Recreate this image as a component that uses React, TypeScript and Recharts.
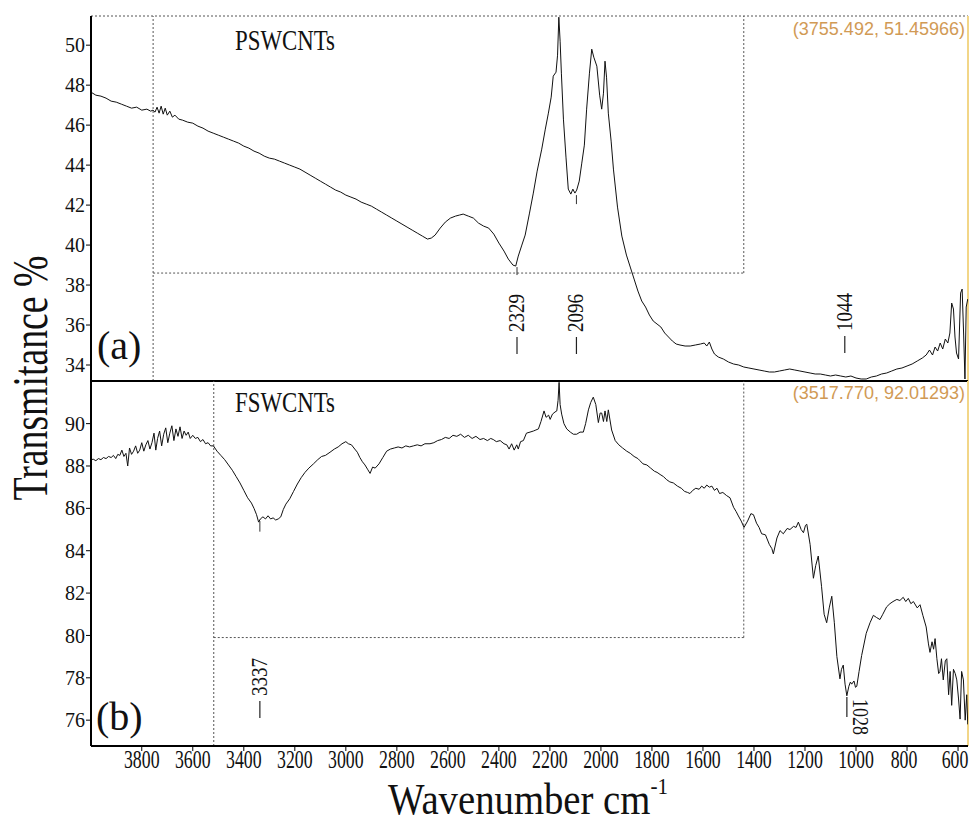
import React from "react";
import { LineChart, Line, XAxis, YAxis, ReferenceLine, ReferenceDot } from "recharts";

const SERIF = "'Liberation Serif', 'Times New Roman', serif";
const INK = "#111";
const CURSOR = "#555";

// [wavenumber cm-1, transmittance %]
const PSWCNTS: [number, number][] = [
  [3999, 47.65], [3980, 47.5], [3960, 47.45], [3940, 47.35], [3920, 47.2], [3900, 47.15],
  [3880, 47.05], [3860, 46.95], [3840, 46.85], [3820, 46.9], [3800, 46.75], [3780, 46.8],
  [3765, 46.7], [3756, 46.75], [3748, 46.65], [3740, 46.9], [3732, 46.6], [3724, 46.95],
  [3716, 46.55], [3708, 46.85], [3700, 46.5], [3690, 46.7], [3680, 46.4], [3670, 46.5],
  [3655, 46.3], [3640, 46.25], [3620, 46.15], [3600, 46.1], [3580, 45.95], [3560, 45.85],
  [3540, 45.7], [3520, 45.6], [3500, 45.5], [3480, 45.4], [3460, 45.3], [3440, 45.2],
  [3420, 45.1], [3400, 44.95], [3380, 44.85], [3360, 44.7], [3340, 44.6], [3320, 44.45],
  [3300, 44.35], [3280, 44.3], [3260, 44.2], [3240, 44.1], [3220, 44.0], [3200, 43.9],
  [3180, 43.8], [3160, 43.65], [3140, 43.5], [3120, 43.35], [3100, 43.2], [3080, 43.05],
  [3060, 42.9], [3040, 42.75], [3020, 42.65], [3000, 42.5], [2980, 42.4], [2960, 42.3],
  [2940, 42.15], [2920, 42.05], [2900, 41.95], [2880, 41.8], [2860, 41.65], [2840, 41.5],
  [2820, 41.35], [2800, 41.2], [2780, 41.05], [2760, 40.9], [2740, 40.75], [2720, 40.6],
  [2700, 40.45], [2680, 40.3], [2665, 40.35], [2650, 40.5], [2630, 40.85], [2610, 41.15],
  [2590, 41.35], [2570, 41.45], [2555, 41.5], [2540, 41.55], [2520, 41.45], [2500, 41.35],
  [2480, 41.1], [2460, 40.95], [2440, 40.85], [2420, 40.55], [2400, 40.1], [2380, 39.7],
  [2363, 39.3], [2345, 39.0], [2334, 38.95], [2324, 39.45], [2310, 40.0], [2297, 40.5],
  [2280, 41.6], [2265, 42.6], [2250, 43.7], [2232, 44.8], [2218, 45.8], [2206, 46.6],
  [2195, 47.4], [2187, 48.45], [2176, 48.65], [2170, 49.5], [2165, 51.4], [2160, 50.2],
  [2155, 48.6], [2147, 46.3], [2137, 44.4], [2128, 42.8], [2118, 42.55], [2110, 42.8],
  [2102, 42.6], [2095, 42.75], [2085, 43.2], [2075, 44.1], [2065, 45.0], [2056, 46.8],
  [2045, 48.6], [2036, 49.8], [2028, 49.4], [2016, 48.95], [2005, 47.5], [1997, 46.8],
  [1990, 47.6], [1984, 49.2], [1978, 48.4], [1971, 46.6], [1960, 45.2], [1951, 43.8],
  [1935, 41.9], [1918, 40.45], [1900, 39.5], [1885, 38.9], [1870, 38.3], [1855, 37.7],
  [1840, 37.2], [1825, 36.9], [1810, 36.5], [1795, 36.2], [1780, 36.05], [1765, 35.9],
  [1750, 35.6], [1735, 35.4], [1720, 35.2], [1705, 35.05], [1690, 35.0], [1670, 34.95],
  [1650, 34.95], [1630, 35.0], [1610, 35.05], [1595, 35.1], [1585, 34.95], [1575, 35.15],
  [1565, 34.8], [1555, 34.55], [1540, 34.4], [1520, 34.3], [1500, 34.15], [1480, 34.05],
  [1460, 34.0], [1440, 33.9], [1420, 33.85], [1400, 33.8], [1380, 33.75], [1360, 33.7],
  [1340, 33.65], [1320, 33.65], [1300, 33.7], [1280, 33.75], [1260, 33.8], [1240, 33.75],
  [1220, 33.7], [1200, 33.65], [1180, 33.6], [1160, 33.55], [1140, 33.55], [1120, 33.5],
  [1100, 33.45], [1080, 33.5], [1060, 33.45], [1040, 33.4], [1020, 33.45], [1000, 33.35],
  [980, 33.3], [960, 33.3], [940, 33.4], [920, 33.45], [900, 33.55], [880, 33.6],
  [860, 33.7], [840, 33.8], [820, 33.85], [800, 33.95], [780, 34.05], [760, 34.2],
  [740, 34.35], [725, 34.5], [712, 34.75], [700, 34.5], [690, 34.9], [680, 34.7],
  [670, 35.1], [660, 34.8], [650, 35.3], [640, 35.1], [632, 35.6], [625, 37.1],
  [618, 36.8], [612, 35.4], [606, 34.6], [598, 34.3], [590, 37.6], [584, 37.8],
  [578, 35.5], [573, 33.3], [568, 36.9], [562, 37.3],
];

const FSWCNTS: [number, number][] = [
  [3999, 88.3], [3990, 88.32], [3980, 88.25], [3970, 88.35], [3960, 88.3], [3950, 88.4],
  [3940, 88.35], [3930, 88.45], [3920, 88.4], [3911, 88.5], [3902, 88.35], [3894, 88.55],
  [3886, 88.5], [3878, 88.75], [3870, 88.45], [3862, 88.6], [3855, 88.0], [3848, 88.85],
  [3840, 88.55], [3832, 88.7], [3824, 88.95], [3816, 88.6], [3808, 88.75], [3800, 89.1],
  [3792, 88.7], [3784, 89.0], [3776, 89.2], [3768, 88.8], [3760, 89.1], [3752, 89.55],
  [3745, 88.75], [3738, 89.3], [3730, 89.65], [3722, 88.95], [3714, 89.5], [3706, 89.8],
  [3698, 89.1], [3690, 89.55], [3682, 89.9], [3674, 89.2], [3666, 89.75], [3658, 89.4],
  [3650, 89.85], [3642, 89.3], [3634, 89.65], [3626, 89.45], [3618, 89.6], [3610, 89.3],
  [3600, 89.45], [3590, 89.3], [3580, 89.35], [3570, 89.15], [3560, 89.25], [3550, 89.05],
  [3540, 89.1], [3530, 88.95], [3519, 88.95], [3505, 88.7], [3490, 88.5], [3475, 88.3],
  [3460, 88.05], [3445, 87.8], [3430, 87.5], [3415, 87.2], [3400, 86.85], [3385, 86.5],
  [3370, 86.25], [3360, 86.0], [3350, 85.7], [3342, 85.35], [3335, 85.5], [3325, 85.6],
  [3315, 85.5], [3305, 85.65], [3295, 85.5], [3285, 85.55], [3275, 85.45], [3265, 85.5],
  [3255, 85.6], [3245, 85.95], [3235, 86.2], [3220, 86.45], [3205, 86.8], [3190, 87.15],
  [3175, 87.45], [3160, 87.7], [3145, 87.9], [3127, 88.1], [3110, 88.3], [3095, 88.45],
  [3080, 88.5], [3062, 88.65], [3045, 88.8], [3030, 88.9], [3015, 89.05], [3000, 89.15],
  [2990, 89.05], [2978, 89.0], [2965, 88.8], [2955, 88.65], [2945, 88.4], [2935, 88.2],
  [2925, 88.05], [2915, 87.85], [2905, 87.65], [2895, 87.95], [2885, 87.9], [2870, 88.1],
  [2855, 88.4], [2840, 88.7], [2825, 88.8], [2810, 88.85], [2795, 88.9], [2780, 88.85],
  [2765, 88.95], [2750, 88.9], [2735, 88.95], [2720, 89.0], [2705, 88.95], [2690, 89.05],
  [2670, 89.05], [2655, 89.1], [2640, 89.2], [2625, 89.25], [2610, 89.35], [2595, 89.3],
  [2580, 89.45], [2565, 89.4], [2550, 89.5], [2535, 89.35], [2520, 89.45], [2505, 89.3],
  [2490, 89.4], [2474, 89.25], [2460, 89.3], [2445, 89.2], [2432, 89.3], [2422, 89.25],
  [2410, 89.15], [2395, 89.2], [2380, 89.05], [2369, 89.0], [2360, 88.8], [2350, 89.05],
  [2340, 88.75], [2330, 89.0], [2324, 88.8], [2315, 89.15], [2304, 89.2], [2292, 89.55],
  [2278, 89.6], [2265, 89.65], [2255, 89.7], [2245, 89.75], [2235, 90.1], [2223, 90.6],
  [2215, 90.3], [2205, 90.4], [2199, 90.2], [2190, 90.45], [2180, 90.55], [2173, 90.6],
  [2168, 91.1], [2164, 91.95], [2160, 90.9], [2154, 90.45], [2145, 90.0], [2134, 89.75],
  [2120, 89.6], [2108, 89.5], [2095, 89.5], [2082, 89.6], [2069, 89.6], [2060, 90.0],
  [2049, 90.65], [2040, 91.0], [2030, 91.25], [2020, 90.9], [2010, 90.05], [2003, 90.5],
  [1997, 90.5], [1990, 90.1], [1984, 90.6], [1977, 90.1], [1971, 90.65], [1958, 89.7],
  [1944, 89.2], [1930, 89.0], [1915, 88.85], [1899, 88.7], [1885, 88.6], [1870, 88.45],
  [1855, 88.35], [1847, 88.25], [1835, 88.1], [1820, 88.05], [1805, 87.9], [1790, 87.75],
  [1780, 87.7], [1768, 87.6], [1755, 87.5], [1742, 87.35], [1730, 87.25], [1716, 87.2],
  [1700, 87.05], [1685, 86.95], [1672, 86.8], [1660, 86.75], [1651, 86.7], [1640, 86.85],
  [1628, 86.95], [1615, 86.9], [1605, 87.05], [1595, 86.95], [1585, 87.1], [1575, 87.0],
  [1565, 87.05], [1555, 86.85], [1545, 86.95], [1535, 86.7], [1522, 86.75], [1507, 86.6],
  [1494, 86.5], [1480, 86.05], [1470, 85.85], [1461, 85.64], [1450, 85.4], [1439, 85.1],
  [1425, 85.4], [1412, 85.75], [1402, 85.7], [1390, 85.3], [1380, 85.1], [1370, 84.8],
  [1355, 84.75], [1340, 84.3], [1330, 84.1], [1324, 83.85], [1310, 84.6], [1298, 84.95],
  [1285, 84.8], [1270, 85.05], [1259, 85.0], [1245, 85.15], [1235, 85.1], [1226, 85.35],
  [1215, 85.0], [1206, 84.85], [1198, 85.2], [1193, 85.25], [1180, 84.3], [1167, 82.7],
  [1158, 83.3], [1148, 83.75], [1135, 82.3], [1125, 81.0], [1115, 80.6], [1105, 81.3],
  [1095, 81.85], [1085, 80.6], [1075, 79.0], [1063, 77.95], [1057, 78.4], [1050, 78.6],
  [1043, 77.7], [1036, 77.15], [1028, 77.6], [1022, 77.8], [1017, 77.7], [1008, 77.85],
  [1002, 77.55], [997, 77.6], [988, 78.3], [978, 79.05], [960, 80.1], [945, 80.6],
  [932, 80.95], [920, 80.85], [906, 80.75], [895, 81.0], [880, 81.35], [867, 81.5],
  [855, 81.6], [840, 81.7], [828, 81.65], [815, 81.8], [805, 81.6], [795, 81.75],
  [785, 81.5], [775, 81.6], [760, 81.3], [749, 81.45], [738, 80.95], [725, 80.4],
  [716, 79.6], [710, 79.2], [702, 79.7], [696, 79.35], [690, 79.85], [683, 78.9],
  [676, 78.2], [671, 78.3], [665, 78.9], [658, 77.9], [650, 78.8], [644, 78.9],
  [637, 77.2], [631, 78.3], [625, 76.7], [618, 78.4], [611, 78.2], [605, 77.9],
  [598, 77.0], [592, 76.05], [586, 78.3], [579, 77.9], [572, 76.0], [566, 77.2],
  [562, 75.8],
];

const X_DOMAIN: [number, number] = [561, 3999];
const X_TICKS = [3800, 3600, 3400, 3200, 3000, 2800, 2600, 2400, 2200, 2000, 1800, 1600, 1400, 1200, 1000, 800, 600];
const TOP_Y_DOMAIN: [number, number] = [33.2, 51.46];
const TOP_Y_TICKS = [34, 36, 38, 40, 42, 44, 46, 48, 50];
const BOTTOM_Y_DOMAIN: [number, number] = [74.78, 92.013];
const BOTTOM_Y_TICKS = [76, 78, 80, 82, 84, 86, 88, 90];

// cursor boxes left on the plots by the instrument software
const TOP_CURSOR = { x: 3755.492, y: 51.45966, right: 1440, bottom: 38.6 };
const BOTTOM_CURSOR = { x: 3517.77, y: 92.01293, right: 1440, bottom: 79.9 };

// peak labels: wavenumber, and transmittance where the rotated text ends
const TOP_PEAKS = [
  { wn: 2329, at: 35.65 },
  { wn: 2096, at: 35.65 },
  { wn: 1044, at: 35.7 },
];
const BOTTOM_PEAKS_UP = [{ wn: 3337, at: 77.14 }];
const BOTTOM_PEAKS_DOWN = [{ wn: 1028, at: 77.0 }];

// little ticks sitting on the band minima
const TOP_MARKS = [
  { wn: 2329, from: 38.9, to: 38.5 },
  { wn: 2096, from: 42.5, to: 42.05 },
];
const BOTTOM_MARKS = [{ wn: 3337, from: 85.4, to: 84.9 }];

const toRows = (pts: [number, number][]) => pts.map(([wn, t]) => ({ wn, t }));

const XTick = ({ x, y, payload }: any) => {
  const s = String(payload.value);
  return (
    <text
      x={s.length < 4 ? x - 3 : x}
      y={y + 15}
      textAnchor="middle"
      fontFamily={SERIF}
      fontSize={25}
      textLength={s.length * 8.9}
      lengthAdjust="spacingAndGlyphs"
      fill={INK}
    >
      {s}
    </text>
  );
};

const upTag = (label: string) => (p: any) => {
  const { cx, cy } = p;
  return (
    <g>
      <line x1={cx} y1={cy + 5} x2={cx} y2={cy + 22} stroke="#222" strokeWidth={1.2} />
      <text
        x={cx + 7}
        y={cy}
        transform={`rotate(-90 ${cx + 7} ${cy})`}
        fontFamily={SERIF}
        fontSize={23}
        textLength={38}
        lengthAdjust="spacingAndGlyphs"
        fill={INK}
      >
        {label}
      </text>
    </g>
  );
};

const downTag = (label: string) => (p: any) => {
  const { cx, cy } = p;
  return (
    <g>
      <line x1={cx - 2} y1={cy - 2} x2={cx - 2} y2={cy + 18} stroke="#222" strokeWidth={1.2} />
      <text
        x={cx + 4}
        y={cy}
        transform={`rotate(90 ${cx + 4} ${cy})`}
        fontFamily={SERIF}
        fontSize={23}
        textLength={36}
        lengthAdjust="spacingAndGlyphs"
        fill={INK}
      >
        {label}
      </text>
    </g>
  );
};

const yTickStyle = { fontSize: 20, fill: INK, fontFamily: SERIF };
const dotted = { stroke: CURSOR, strokeDasharray: "2 2", strokeWidth: 1 };

export default function App() {
  return (
    <div style={{ position: "absolute", left: 0, top: 0, width: 975, height: 826, background: "#fff" }}>
      {/* (a) PSWCNTs */}
      <div style={{ position: "absolute", left: 0, top: 0 }}>
        <LineChart width={975} height={383} data={toRows(PSWCNTS)} margin={{ top: 16, right: 7, bottom: 2, left: 31 }}>
          <XAxis
            dataKey="wn"
            type="number"
            domain={X_DOMAIN}
            reversed
            allowDataOverflow
            height={0}
            tick={false}
            tickLine={false}
            axisLine={false}
          />
          <YAxis
            type="number"
            domain={TOP_Y_DOMAIN}
            ticks={TOP_Y_TICKS}
            allowDataOverflow
            width={60}
            tickSize={5}
            tickMargin={1}
            tick={yTickStyle}
            tickLine={{ stroke: "#000" }}
            axisLine={{ stroke: "#000", strokeWidth: 2 }}
          />
          <ReferenceLine y={TOP_CURSOR.y} {...dotted} />
          <ReferenceLine x={TOP_CURSOR.x} {...dotted} />
          <ReferenceLine
            segment={[{ x: TOP_CURSOR.x, y: TOP_CURSOR.bottom }, { x: TOP_CURSOR.right, y: TOP_CURSOR.bottom }]}
            {...dotted}
          />
          <ReferenceLine
            segment={[{ x: TOP_CURSOR.right, y: TOP_CURSOR.bottom }, { x: TOP_CURSOR.right, y: TOP_CURSOR.y }]}
            {...dotted}
          />
          <ReferenceLine x={X_DOMAIN[0]} stroke="#f2d688" strokeWidth={2} />
          {TOP_MARKS.map((m) => (
            <ReferenceLine key={m.wn} segment={[{ x: m.wn, y: m.from }, { x: m.wn, y: m.to }]} stroke="#333" />
          ))}
          {TOP_PEAKS.map((pk) => (
            <ReferenceDot key={pk.wn} x={pk.wn} y={pk.at} r={0} ifOverflow="visible" shape={upTag(String(pk.wn))} />
          ))}
          <Line type="linear" dataKey="t" stroke={INK} strokeWidth={1} dot={false} isAnimationActive={false} />
          {/* solid frame line between the two panels */}
          <ReferenceLine y={TOP_Y_DOMAIN[0]} stroke="#000" strokeWidth={2} />
        </LineChart>
      </div>

      {/* (b) FSWCNTs */}
      <div style={{ position: "absolute", left: 0, top: 381 }}>
        <LineChart width={975} height={445} data={toRows(FSWCNTS)} margin={{ top: 0, right: 7, bottom: 0, left: 31 }}>
          <XAxis
            dataKey="wn"
            type="number"
            domain={X_DOMAIN}
            reversed
            allowDataOverflow
            ticks={X_TICKS}
            height={80}
            tickSize={5}
            tickMargin={2}
            tick={<XTick />}
            tickLine={{ stroke: "#000" }}
            axisLine={{ stroke: "#000", strokeWidth: 2 }}
          />
          <YAxis
            type="number"
            domain={BOTTOM_Y_DOMAIN}
            ticks={BOTTOM_Y_TICKS}
            allowDataOverflow
            width={60}
            tickSize={5}
            tickMargin={1}
            tick={yTickStyle}
            tickLine={{ stroke: "#000" }}
            axisLine={{ stroke: "#000", strokeWidth: 2 }}
          />
          <ReferenceLine x={BOTTOM_CURSOR.x} {...dotted} />
          <ReferenceLine
            segment={[{ x: BOTTOM_CURSOR.x, y: BOTTOM_CURSOR.bottom }, { x: BOTTOM_CURSOR.right, y: BOTTOM_CURSOR.bottom }]}
            {...dotted}
          />
          <ReferenceLine
            segment={[{ x: BOTTOM_CURSOR.right, y: BOTTOM_CURSOR.bottom }, { x: BOTTOM_CURSOR.right, y: BOTTOM_CURSOR.y }]}
            {...dotted}
          />
          <ReferenceLine x={X_DOMAIN[0]} stroke="#f2d688" strokeWidth={2} />
          {BOTTOM_MARKS.map((m) => (
            <ReferenceLine key={m.wn} segment={[{ x: m.wn, y: m.from }, { x: m.wn, y: m.to }]} stroke="#333" />
          ))}
          {BOTTOM_PEAKS_UP.map((pk) => (
            <ReferenceDot key={pk.wn} x={pk.wn} y={pk.at} r={0} ifOverflow="visible" shape={upTag(String(pk.wn))} />
          ))}
          {BOTTOM_PEAKS_DOWN.map((pk) => (
            <ReferenceDot key={pk.wn} x={pk.wn} y={pk.at} r={0} ifOverflow="visible" shape={downTag(String(pk.wn))} />
          ))}
          <Line type="linear" dataKey="t" stroke={INK} strokeWidth={1} dot={false} isAnimationActive={false} />
        </LineChart>
      </div>

      {/* titles, panel names and cursor read-outs */}
      <svg width={975} height={826} style={{ position: "absolute", left: 0, top: 0, pointerEvents: "none" }}>
        <text x={235} y={50} fontFamily={SERIF} fontSize={29} textLength={100} lengthAdjust="spacingAndGlyphs" fill={INK}>
          PSWCNTs
        </text>
        <text x={235} y={412} fontFamily={SERIF} fontSize={29} textLength={100} lengthAdjust="spacingAndGlyphs" fill={INK}>
          FSWCNTs
        </text>
        <text x={97} y={359} fontFamily={SERIF} fontSize={40} fill={INK}>(a)</text>
        <text x={96} y={730} fontFamily={SERIF} fontSize={40} fill={INK}>(b)</text>
        <text
          x={965}
          y={35}
          textAnchor="end"
          fontFamily="'Liberation Sans', Arial, sans-serif"
          fontSize={18}
          fill="#d19a55"
        >
          ({TOP_CURSOR.x.toFixed(3)}, {TOP_CURSOR.y.toFixed(5)})
        </text>
        <text
          x={965}
          y={399}
          textAnchor="end"
          fontFamily="'Liberation Sans', Arial, sans-serif"
          fontSize={18}
          fill="#d19a55"
        >
          ({BOTTOM_CURSOR.x.toFixed(3)}, {BOTTOM_CURSOR.y.toFixed(5)})
        </text>
        <text
          x={47}
          y={378}
          transform="rotate(-90 47 378)"
          textAnchor="middle"
          fontFamily={SERIF}
          fontSize={50}
          textLength={245}
          lengthAdjust="spacingAndGlyphs"
          fill={INK}
        >
          Transmitance %
        </text>
        <text transform="translate(388 814) scale(0.88 1)" x={0} y={0} fontFamily={SERIF} fontSize={44} fill={INK}>
          Wavenumber cm
          <tspan dy={-20} fontSize={24}>-1</tspan>
        </text>
      </svg>
    </div>
  );
}
